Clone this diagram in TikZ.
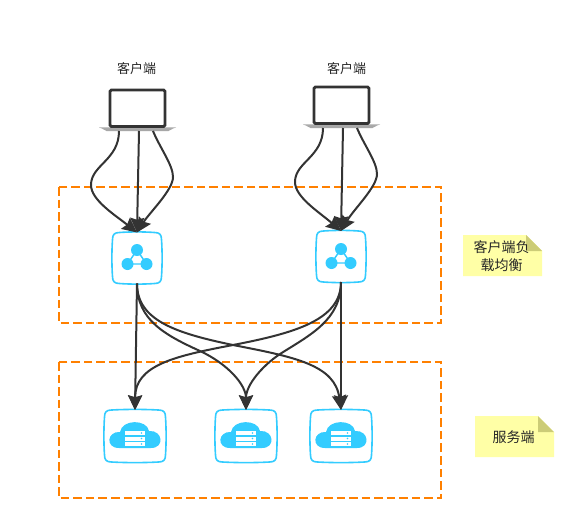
\documentclass[tikz,border=0pt]{standalone}
\usepackage{fontspec}
\setmainfont{Noto Sans CJK SC}
\usetikzlibrary{arrows.meta}
\definecolor{dk}{HTML}{333333}
\definecolor{icon}{HTML}{33CCFF}
\definecolor{org}{HTML}{FF8000}
\definecolor{note}{HTML}{FFFFA6}
\definecolor{fold}{HTML}{CCCC77}
\tikzset{
  x=0.75pt,y=-0.75pt,
  flow/.style={draw=dk,line width=1.5pt,-{Stealth[length=11pt,width=10.5pt,inset=1.5pt]}},
  zone/.style={draw=org,line width=1.5pt,dash pattern=on 6.4pt off 3pt},
  label/.style={font=\fontsize{9.75pt}{13pt}\selectfont,text=black!85,align=center,inner sep=0pt},
  notelabel/.style={font=\fontsize{10.5pt}{13.5pt}\selectfont,text=black!85,align=center,inner sep=0pt},
  anchorbox/.style={inner sep=0pt,outer sep=0pt},
}
\newcommand{\laptop}[3]{% name, cx, top
  \begin{scope}[shift={(#2,#3)}]
    \fill[gray!85!black!60] (-38.5,38) -- (38.5,38) -- (31,42) -- (-31,42) -- cycle;
    \fill[gray!45] (-38.5,38) -- (38.5,38) -- (37,39) -- (-37,39) -- cycle;
    \draw[draw=dk,fill=white,line width=2.1pt,rounded corners=1pt] (-27.5,1) rectangle (27.5,37.5);
  \end{scope}
  \node[anchorbox,minimum width=78pt*0.75,minimum height=42pt*0.75] (#1) at (#2,#3+21) {};
}
\newcommand{\squircle}[5]{% name,cx,cy,halfw,halfh
  \begin{scope}[shift={(#2,#3)}]
    \draw[icon,line width=1.2pt,fill=white]
      (-#4+7,-#5) .. controls (-#4*0.3,-#5-0.8) and (#4*0.3,-#5-0.8) .. (#4-7,-#5)
      .. controls (#4-2,-#5) and (#4,-#5+2) .. (#4,-#5+7)
      .. controls (#4+0.8,-#5*0.3) and (#4+0.8,#5*0.3) .. (#4,#5-7)
      .. controls (#4,#5-2) and (#4-2,#5) .. (#4-7,#5)
      .. controls (#4*0.3,#5+0.8) and (-#4*0.3,#5+0.8) .. (-#4+7,#5)
      .. controls (-#4+2,#5) and (-#4,#5-2) .. (-#4,#5-7)
      .. controls (-#4-0.8,#5*0.3) and (-#4-0.8,-#5*0.3) .. (-#4,-#5+7)
      .. controls (-#4,-#5+2) and (-#4+2,-#5) .. (-#4+7,-#5) -- cycle;
  \end{scope}
  \node[anchorbox,minimum width=#4*1.5pt,minimum height=#5*1.5pt] (#1) at (#2,#3) {};
}
\newcommand{\lbicon}[2]{%
  \begin{scope}[shift={(#1,#2)}]
    \fill[icon] (0,-8) circle (6) (-9.5,6) circle (6) (9.5,6) circle (6);
    \draw[icon,line width=1.1pt] (0,-8) -- (-9.5,6) -- (9.5,6) -- cycle;
  \end{scope}}
\newcommand{\cloudicon}[2]{%
  \begin{scope}[shift={(#1,#2)}]
    \fill[icon] (-16,11) .. controls (-30,11) and (-28,-6) .. (-15,-5)
      .. controls (-13,-18) and (12,-18) .. (14,-6)
      .. controls (28,-7) and (30,11) .. (16,11) -- cycle;
    \foreach \yy in {-4,1.5,7}{
      \fill[white] (-10,\yy-2) rectangle (10,\yy+2);
      \fill[icon] (6.5,\yy) circle (0.9);
    }
  \end{scope}}
\newcommand{\notebox}[6]{% name,x1,y1,x2,y2,text
  \fill[note] (#2,#3) -- (#4-16,#3) -- (#4,#3+16) -- (#4,#5) -- (#2,#5) -- cycle;
  \fill[fold] (#4-16,#3) -- (#4,#3+16) -- (#4-16,#3+16) .. controls (#4-16,#3+10) .. cycle;
  \node[notelabel] (#1) at ({(#2+#4)/2-1},{(#3+#5)/2+0.5}) {#6};
}
\begin{document}
\begin{tikzpicture}
\useasboundingbox (0,0) rectangle (585,529);
\fill[white] (0,0) rectangle (585,529);

\draw[zone] (59,187) rectangle (441,323);
\draw[zone] (59,362) rectangle (441,498);

\node[label] (c1) at (136.5,69) {客户端};
\node[label] (c2) at (346.5,69) {客户端};

\laptop{pc1}{137.5}{89}
\laptop{pc2}{341.5}{86}

\squircle{lb1}{137}{258}{24.5}{25.5}
\squircle{lb2}{341}{256.5}{24.5}{25.5}
\lbicon{137}{258}
\lbicon{341}{257}

\squircle{s1}{135}{436}{30.5}{26}
\squircle{s2}{246}{436}{30.5}{26}
\squircle{s3}{341}{436}{30.5}{26}
\cloudicon{135}{437}
\cloudicon{246}{437}
\cloudicon{341}{437}

\coordinate (pc1l) at (119,131);
\coordinate (pc1m) at (139,131);
\coordinate (pc1r) at (153,131);
\coordinate (pc2l) at (323,128);
\coordinate (pc2m) at (343,128);
\coordinate (pc2r) at (357,128);

\draw[flow] (pc1l) .. controls (119,160) and (91,165) .. (91,185) .. controls (91,200) and (115,215) .. (lb1.north);
\draw[flow] (pc1m) -- (lb1.north);
\draw[flow] (pc1r) .. controls (160,148) and (173,165) .. (173,177) .. controls (173,190) and (150,212) .. (lb1.north);

\draw[flow] (pc2l) .. controls (323,157) and (295,162) .. (295,182) .. controls (295,197) and (319,212) .. (lb2.north);
\draw[flow] (pc2m) -- (lb2.north);
\draw[flow] (pc2r) .. controls (364,145) and (377,162) .. (377,174) .. controls (377,187) and (354,209) .. (lb2.north);

\draw[flow] (lb1.south) -- (s1.north);
\draw[flow] (lb1.south) .. controls (137,320) and (165,335) .. (200,351) .. controls (228,364) and (246,385) .. (s2.north);
\draw[flow] (lb1.south) .. controls (137,320) and (175,333) .. (233,345) .. controls (295,357) and (335,365) .. (s3.north);

\draw[flow] (lb2.south) .. controls (341,320) and (295,333) .. (233,345) .. controls (175,356) and (135,365) .. (s1.north);
\draw[flow] (lb2.south) .. controls (341,320) and (310,335) .. (280,354) .. controls (262,366) and (246,385) .. (s2.north);
\draw[flow] (lb2.south) -- (s3.north);

\notebox{n1}{463}{235}{542}{276}{客户端负\\载均衡}
\notebox{n2}{475}{416}{554}{457}{服务端}
\end{tikzpicture}
\end{document}
